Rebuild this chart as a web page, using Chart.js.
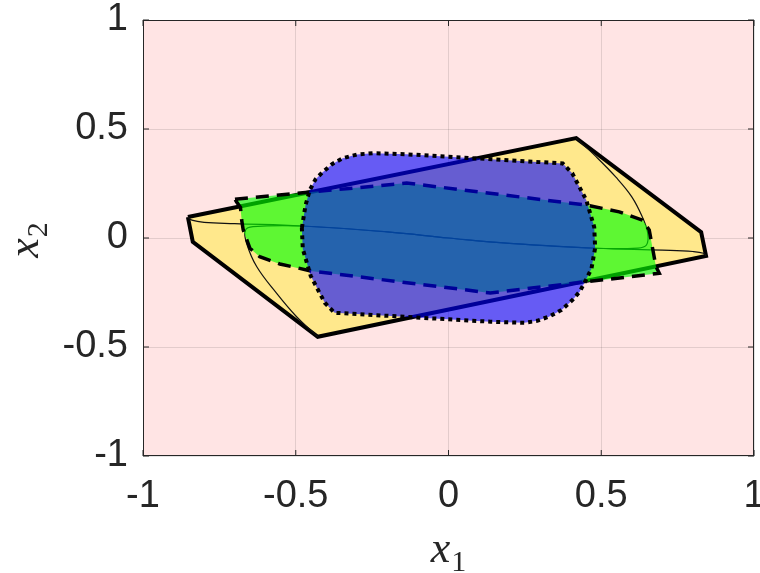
<!DOCTYPE html>
<html>
<head>
<meta charset="utf-8">
<script src="https://cdn.jsdelivr.net/npm/chart.js@4.4.0/dist/chart.umd.min.js"></script>
<style>
  body { margin: 0; background: #fff; }
  #caja { width: 760px; height: 573px; }
</style>
</head>
<body>
<div id="caja"><canvas id="grafico" width="760" height="573"></canvas></div>
<script>
// ticks de los dos ejes
const ticksEje = [-1, -0.5, 0, 0.5, 1];
const etiquetasEje = ['-1', '-0.5', '0', '0.5', '1'];

// region amarilla (borde negro continuo)
const amarilloX = [-0.853, 0.418, 0.827, 0.843, -0.428, -0.837, -0.853];
const amarilloY = [0.096, 0.458, 0.027, -0.082, -0.453, -0.018, 0.096];

// region verde (borde a trazos)
const verdeX = [-0.699, -0.137, 0.451, 0.559, 0.635, 0.657, 0.665, 0.679, 0.69, 0.137, -0.451, -0.552, -0.618, -0.65, -0.672, -0.677, -0.681, -0.694, -0.699];
const verdeY = [0.178, 0.252, 0.151, 0.12, 0.082, 0.037, -0.024, -0.131, -0.162, -0.252, -0.151, -0.119, -0.086, -0.047, 0.037, 0.082, 0.14, 0.166, 0.178];

// region azul (borde punteado)
const azulX = [-0.48, -0.468, -0.454, -0.435, -0.412, -0.38, -0.346, -0.3, -0.248, -0.137, 0.374, 0.405, 0.451, 0.477, 0.48, 0.468, 0.45, 0.43, 0.406, 0.37, 0.33, 0.29, 0.248, 0.137, -0.373, -0.405, -0.451, -0.477, -0.48];
const azulY = [0.046, 0.15, 0.22, 0.27, 0.302, 0.34, 0.366, 0.383, 0.389, 0.384, 0.342, 0.297, 0.174, 0.05, -0.046, -0.14, -0.192, -0.245, -0.284, -0.33, -0.36, -0.38, -0.389, -0.384, -0.343, -0.297, -0.174, -0.05, 0.046];

// trayectorias finas
const curvaAX = [0.418, 0.483, 0.548, 0.60, 0.634, 0.652, 0.648, 0.62, 0.48, 0.2, 0, -0.2, -0.48, -0.7, -0.8, -0.84, -0.853];
const curvaAY = [0.458, 0.373, 0.279, 0.189, 0.098, 0.023, -0.032, -0.046, -0.047, -0.025, 0, 0.028, 0.055, 0.066, 0.072, 0.082, 0.096];
const curvaBX = [-0.428, -0.498, -0.563, -0.628, -0.661, -0.665, -0.64, -0.48, -0.2, 0, 0.2, 0.48, 0.7, 0.8, 0.835, 0.843];
const curvaBY = [-0.453, -0.36, -0.253, -0.131, -0.024, 0.035, 0.052, 0.055, 0.028, 0, -0.025, -0.047, -0.056, -0.062, -0.07, -0.082];

const puntos = (xs, ys) => xs.map((x, i) => ({ x: x, y: ys[i] }));

const colorTexto = '#262626';

// escribe x con subindice, arrancando en (0,0) del contexto actual
function etiquetaSub(ctx, letra, sub) {
  ctx.font = 'italic 44px "Liberation Serif"';
  const anchoX = ctx.measureText(letra).width;
  ctx.font = '30px "Liberation Serif"';
  const anchoSub = ctx.measureText(sub).width;
  const inicio = -(anchoX + anchoSub + 1) / 2;
  ctx.font = 'italic 44px "Liberation Serif"';
  ctx.fillText(letra, inicio, 0);
  ctx.font = '30px "Liberation Serif"';
  ctx.fillText(sub, inicio + anchoX + 1, 9);
}

// fondo rosado, caja, ticks hacia adentro y titulos de los ejes
const decoracion = {
  id: 'decoracion',
  beforeDraw(chart) {
    const { ctx, chartArea: a } = chart;
    ctx.save();
    ctx.fillStyle = '#ffe4e4';
    ctx.fillRect(a.left, a.top, a.right - a.left, a.bottom - a.top);
    ctx.restore();
  },
  afterDraw(chart) {
    const { ctx, chartArea: a, scales } = chart;
    ctx.save();
    ctx.strokeStyle = colorTexto;
    ctx.lineWidth = 1;
    ctx.strokeRect(a.left + 0.5, a.top + 0.5, a.right - a.left - 1, a.bottom - a.top - 1);
    ticksEje.forEach(v => {
      const px = scales.x.getPixelForValue(v);
      const py = scales.y.getPixelForValue(v);
      ctx.beginPath();
      ctx.moveTo(px, a.bottom); ctx.lineTo(px, a.bottom - 6);
      ctx.moveTo(px, a.top); ctx.lineTo(px, a.top + 6);
      ctx.moveTo(a.left, py); ctx.lineTo(a.left + 6, py);
      ctx.moveTo(a.right, py); ctx.lineTo(a.right - 6, py);
      ctx.stroke();
    });

    ctx.fillStyle = colorTexto;
    ctx.textBaseline = 'alphabetic';
    ctx.textAlign = 'left';
    // x1
    ctx.save();
    ctx.translate((a.left + a.right) / 2, 562);
    etiquetaSub(ctx, 'x', '1');
    ctx.restore();
    // x2
    ctx.translate(38, (a.top + a.bottom) / 2 + 2);
    ctx.rotate(-Math.PI / 2);
    etiquetaSub(ctx, 'x', '2');
    ctx.restore();
  }
};

new Chart(document.getElementById('grafico'), {
  type: 'line',
  data: {
    datasets: [
      {
        label: 'azul',
        data: puntos(azulX, azulY),
        order: 0,
        fill: 'shape',
        backgroundColor: 'rgba(0, 0, 255, 0.6)',
        borderColor: '#000',
        borderWidth: 4,
        borderDash: [4, 4],
        pointRadius: 0,
        tension: 0
      },
      {
        label: 'verde',
        data: puntos(verdeX, verdeY),
        order: 1,
        fill: 'shape',
        backgroundColor: 'rgba(0, 255, 0, 0.63)',
        borderColor: '#000',
        borderWidth: 3.5,
        borderDash: [13, 8],
        pointRadius: 0,
        tension: 0
      },
      {
        label: 'curva B',
        data: puntos(curvaBX, curvaBY),
        order: 2,
        fill: false,
        borderColor: '#111',
        borderWidth: 1.2,
        pointRadius: 0,
        tension: 0.4
      },
      {
        label: 'curva A',
        data: puntos(curvaAX, curvaAY),
        order: 3,
        fill: false,
        borderColor: '#111',
        borderWidth: 1.2,
        pointRadius: 0,
        tension: 0.4
      },
      {
        label: 'amarillo',
        data: puntos(amarilloX, amarilloY),
        order: 4,
        fill: 'shape',
        backgroundColor: '#ffe88c',
        borderColor: '#000',
        borderWidth: 4,
        pointRadius: 0,
        tension: 0
      }
    ]
  },
  options: {
    responsive: false,
    animation: false,
    layout: { padding: { top: 20, right: 6, left: 0, bottom: 0 } },
    plugins: {
      legend: { display: false },
      tooltip: { enabled: false }
    },
    scales: {
      x: {
        type: 'linear',
        min: -1,
        max: 1,
        afterBuildTicks: s => { s.ticks = ticksEje.map(v => ({ value: v })); },
        afterFit: s => { s.height = 117; s.paddingLeft = 0; s.paddingRight = 0; },
        ticks: {
          callback: (v, i) => etiquetasEje[i],
          font: { family: 'Liberation Sans', size: 38 },
          color: colorTexto,
          padding: 18,
          maxRotation: 0,
          autoSkip: false
        },
        grid: { color: 'rgba(38, 38, 38, 0.13)', drawTicks: false },
        border: { display: false }
      },
      y: {
        type: 'linear',
        min: -1,
        max: 1,
        afterBuildTicks: s => { s.ticks = ticksEje.map(v => ({ value: v })); },
        afterFit: s => { s.width = 143; s.paddingTop = 0; s.paddingBottom = 0; },
        ticks: {
          callback: (v, i) => etiquetasEje[i],
          font: { family: 'Liberation Sans', size: 38 },
          color: colorTexto,
          padding: 15,
          autoSkip: false
        },
        grid: { color: 'rgba(38, 38, 38, 0.13)', drawTicks: false },
        border: { display: false }
      }
    }
  },
  plugins: [decoracion]
});
</script>
</body>
</html>
